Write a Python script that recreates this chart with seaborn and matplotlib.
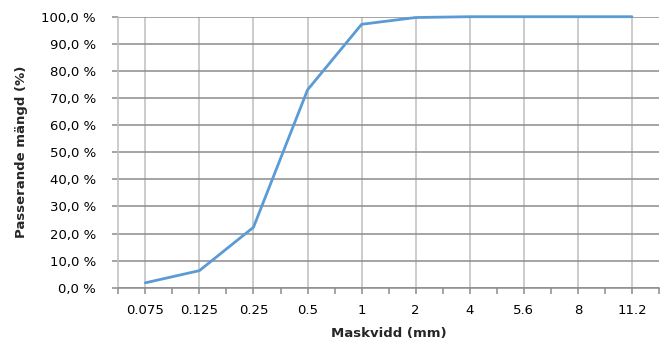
import numpy as np
import pandas as pd
import seaborn as sns
import matplotlib.pyplot as plt
from matplotlib.ticker import FuncFormatter, FixedLocator

sieve_sizes = ["0.075", "0.125", "0.25", "0.5", "1", "2", "4", "5.6", "8", "11.2"]
passing = [1.8, 6.3, 22.3, 73.0, 97.2, 99.7, 100.0, 100.0, 100.0, 100.0]

df = pd.DataFrame({"Maskvidd": sieve_sizes, "Passerande": passing})
df["pos"] = np.arange(len(df))

sns.set_style("white")
plt.rcParams["font.family"] = ["DejaVu Sans"]

fig = plt.figure(figsize=(6.66, 3.48), dpi=100)
ax = fig.add_axes([118.3 / 666, 1 - 287.7 / 348, (659 - 118.3) / 666, (287.7 - 16.7) / 348])

sns.lineplot(data=df, x="pos", y="Passerande", ax=ax, color="#5B9BD5", linewidth=2, zorder=3)
for ln in ax.lines:
    ln.set_clip_on(False)

ax.set_xlim(-0.5, len(df) - 0.5)
ax.set_ylim(0, 100)
ax.set_yticks(np.arange(0, 101, 10))
ax.yaxis.set_major_formatter(FuncFormatter(lambda v, _: f"{v:.1f} %".replace(".", ",")))
ax.set_xticks(df["pos"])
ax.set_xticklabels(sieve_sizes)
ax.xaxis.set_minor_locator(FixedLocator(np.arange(-0.5, len(df), 1.0)))

ax.grid(axis="y", color="#8c8c8c", linewidth=1.1, zorder=0)
ax.grid(axis="x", which="major", color="#bfbfbf", linewidth=1.1, zorder=0)

for s in ["top", "right"]:
    ax.spines[s].set_visible(False)
ax.spines["left"].set_color("#bfbfbf")
ax.spines["bottom"].set_color("#8c8c8c")
ax.spines["left"].set_linewidth(1.1)
ax.spines["bottom"].set_linewidth(1.1)

ax.tick_params(axis="y", which="major", direction="out", length=4, color="#8c8c8c",
               width=1.1, pad=12, labelsize=9.5, labelcolor="#000000", left=True)
ax.tick_params(axis="x", which="both", direction="out", length=4, color="#8c8c8c",
               width=1.1, bottom=True)
ax.tick_params(axis="x", which="major", pad=8, labelsize=9.5, labelcolor="#000000")

ax.set_xlabel("Maskvidd (mm)", fontsize=9.5, fontweight="bold", labelpad=7)
ax.set_ylabel("Passerande mängd (%)", fontsize=9.5, fontweight="bold", labelpad=10)

fig.savefig("out.png", dpi=100)
